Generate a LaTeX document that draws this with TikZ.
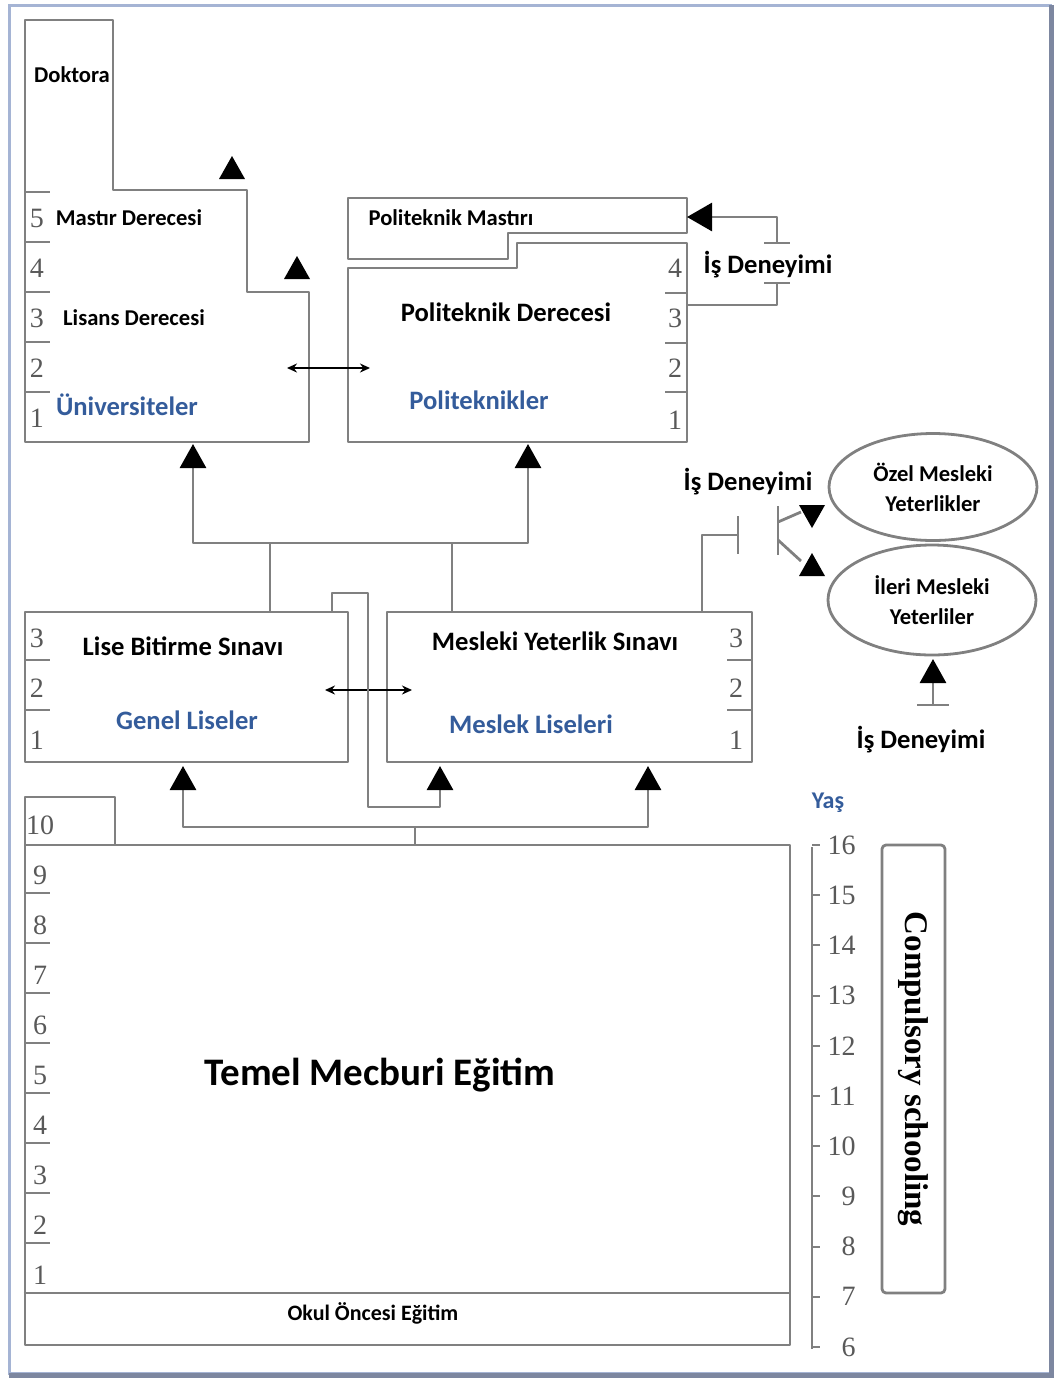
\documentclass[tikz,border=0pt]{standalone}
\usepackage{fontspec}
\setmainfont{Carlito}
\newfontfamily\serifnum{Liberation Serif}
\usepackage{tikz}
\usetikzlibrary{arrows.meta, positioning, shapes.geometric}

\definecolor{linegray}{RGB}{128,128,128}
\definecolor{labelblue}{RGB}{52,92,155}
\definecolor{framecol}{RGB}{165,180,212}
\definecolor{frameshade}{RGB}{125,135,160}

\begin{document}
\begin{tikzpicture}[x=0.5pt, y=-0.5pt,
    wall/.style={draw=linegray, line width=1.4pt, line join=round},
    up/.style={wall, -{Triangle[width=13pt,length=12pt,color=black]}},
    both/.style={draw=black, line width=0.9pt, {Stealth[length=5pt,width=4.5pt]}-{Stealth[length=5pt,width=4.5pt]}},
    lbl/.style={font=\bfseries\fontsize{11.3}{15}\selectfont, inner sep=0pt, align=center},
    big/.style={font=\bfseries\fontsize{13.3}{15}\selectfont, inner sep=0pt},
    school/.style={big, text=labelblue},
    grade/.style={font=\serifnum\fontsize{14}{14}\selectfont, text=black!65, inner sep=0pt},
    tri/.pic={\fill[black] (-13,0) -- (13,0) -- (0,-23) -- cycle;}
  ]
  \useasboundingbox (0,0) rectangle (1056,1378);
  \draw[framecol, line width=1.5pt] (9,5) rectangle (1050,1373);
  \draw[frameshade, line width=2.5pt] (1051,5) -- (1051,1375) -- (9,1375);

  % universities
  \draw[wall] (25,20) -| (113,190) -| (247,292) -| (309,442) -- (25,442) -- cycle;
  \foreach \g [count=\i from 0] in {5,4,3,2,1} {
    \draw[wall] (25,{192+50*\i}) -- (50,{192+50*\i});
    \node[grade] at (37,{218+50*\i}) {\g};
  }
  \node[lbl] (doktora) at (72,75) {Doktora};
  \node[lbl] (mastir) at (129,218) {Mastır Derecesi};
  \node[lbl] (lisans) at (134,318) {Lisans Derecesi};
  \node[school] (uni) at (127,405) {Üniversiteler};
  \pic at (232,179) {tri};
  \pic at (297,279) {tri};

  % polytechnics
  \draw[wall] (348,198) -- (687,198) -- (687,233) -- (508,233) -- (508,259) -- (348,259) -- cycle;
  \draw[wall] (348,268) -- (517,268) -- (517,243) -- (687,243) -- (687,442) -- (348,442) -- cycle;
  \foreach \y in {293,343,392} \draw[wall] (665,\y) -- (687,\y);
  \foreach \g/\y in {4/268,3/318,2/368,1/420} \node[grade] at (675,\y) {\g};
  \node[lbl] (pmastir) at (451,218) {Politeknik Mastırı};
  \node[big] (pderece) at (506,312) {Politeknik Derecesi};
  \node[school] (poli) at (479,400) {Politeknikler};
  \draw[both] (287,368) -- (370,368);

  % work experience into the polytechnic master
  \node[big] (is1) at (768,265) {İş Deneyimi};
  \draw[wall] (687,305) -| (777,283);
  \draw[wall] (764,283) -- (790,283);
  \draw[wall] (764,243) -- (790,243);
  \draw[wall, -{Triangle[width=14pt,length=12.5pt,color=black]}] (777,243) |- (687,217);

  % high schools
  \node[wall, minimum width=161.5pt, minimum height=75pt] (genel) at (186.5,687) {};
  \node[wall, minimum width=182.5pt, minimum height=75pt] (meslek) at (569.5,687) {};
  \foreach \y in {660,710} {
    \draw[wall] (25,\y) -- (50,\y);
    \draw[wall] (727,\y) -- (752,\y);
  }
  \foreach \g/\y in {3/638,2/688,1/740} {
    \node[grade] at (37,\y) {\g};
    \node[grade] at (736,\y) {\g};
  }
  \node[big] (lise) at (183,646) {Lise Bitirme Sınavı};
  \node[school] (genelLbl) at (187,720) {Genel Liseler};
  \node[big] (myeter) at (555,641) {Mesleki Yeterlik Sınavı};
  \node[school] (meslekLbl) at (531,724) {Meslek Liseleri};
  \draw[both] (325,690) -- (412,690);

  % up to higher education
  \draw[up] (270,0 |- genel.north) |- (193,543) -- (193,444);
  \draw[up] (452,0 |- meslek.north) |- (528,543) -- (528,444);
  \draw[wall] (270,543) -- (452,543);
  \draw[up] (332,0 |- genel.north) |- (368,593) |- (440,807) -- (440,766);

  % work experience and vocational qualifications
  \node[big] (is2) at (748,482) {İş Deneyimi};
  \draw[wall] (702,0 |- meslek.north) |- (738,535);
  \draw[wall] (738,516) -- (738,554);
  \draw[wall] (778,506) -- (778,555);
  \draw[wall] (778,522) -- (801,512);
  \draw[wall] (778,540) -- (801,561);
  \pic[rotate=180] at (812,505) {tri};
  \pic at (812,576) {tri};
  \node[ellipse, wall, lbl, minimum width=104pt, minimum height=53.5pt] (ozel) at (933,487) {Özel Mesleki\\Yeterlikler};
  \node[ellipse, wall, lbl, minimum width=104pt, minimum height=55pt] (ileri) at (932,600) {İleri Mesleki\\Yeterliler};
  \draw[up] (933,705) -- (933,659);
  \draw[wall] (917,705) -- (949,705);
  \node[big] (is3) at (921,740) {İş Deneyimi};

  % basic education
  \draw[wall] (25,845) |- (115,797) -- (115,845);
  \node[wall, minimum width=382.5pt, minimum height=250pt] (temel) at (407.5,1095) {};
  \draw[wall] (temel.west |- 0,1293) -- (temel.east |- 0,1293);
  \foreach \g in {2,...,9} \draw[wall] (25,{1293-50*(\g-1)}) -- (50,{1293-50*(\g-1)});
  \foreach \g in {1,...,10} \node[grade] at (40,{1275-50*(\g-1)}) {\g};
  \node[font=\bfseries\fontsize{19.5}{22}\selectfont, inner sep=0pt] (temelLbl) at (380,1075) {Temel Mecburi Eğitim};
  \node[lbl, font=\bfseries\fontsize{11}{13}\selectfont] (okul) at (373,1313) {Okul Öncesi Eğitim};
  \draw[up] (415,0 |- temel.north) |- (183,827) -- (183,766);
  \draw[up] (415,827) -| (648,766);

  % ages
  \node[big, font=\bfseries\fontsize{12}{14}\selectfont, text=labelblue] (yas) at (828,803) {Yaş};
  \draw[wall, line width=1pt] (812,847) -- (812,1349);
  \foreach \a in {6,...,16} {
    \draw[wall, line width=1pt] (812,{1347-50.2*(\a-6)}) -- (820,{1347-50.2*(\a-6)});
    \node[grade, anchor=east] at (856,{1347-50.2*(\a-6)}) {\a};
  }
  \node[wall, rounded corners=2pt, minimum width=224pt, minimum height=31.5pt, rotate=-90,
        font=\serifnum\bfseries\fontsize{16.5}{18}\selectfont] (comp) at (913.5,1069) {Compulsory schooling};
\end{tikzpicture}
\end{document}
